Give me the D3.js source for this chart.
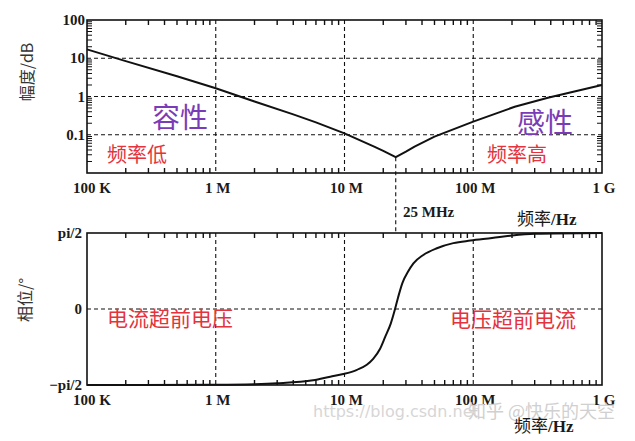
<!DOCTYPE html>
<html><head><meta charset="utf-8">
<script src="https://cdn.jsdelivr.net/npm/d3@7/dist/d3.min.js"></script>
<style>body{margin:0;background:#fff}svg{display:block}</style>
</head><body>
<svg id="c" width="635" height="441"></svg>
<script>
// ---- data ----
const freqTicks = [1e5, 1e6, 1e7, 1e8, 1e9];
const freqTickLabels = ["100 K", "1 M", "10 M", "100 M", "1 G"];
const magTicks = [0.1, 1, 10, 100];
const magTickLabels = ["0.1", "1", "10", "100"];
const phaseTicks = [-90, 0, 90];
const phaseTickLabels = ["\u2212pi/2", "0", "pi/2"];
const magFreq = [1e5, 2e5, 5e5, 1e6, 2e6, 4e6, 6e6, 1e7, 1.7e7, 2e7, 2.5e7, 3e7, 3.5e7, 5e7, 1e8, 2.1e8, 3.8e8, 1e9];
const magValue = [17.1, 8.4, 3.4, 1.64, 0.74, 0.34, 0.21, 0.109, 0.049, 0.038, 0.026, 0.036, 0.049, 0.089, 0.22, 0.54, 0.93, 2.0];
const phFreq = [1e5, 1e6, 2e6, 3e6, 5.7e6, 7.75e6, 9.8e6, 1.25e7, 1.49e7, 1.67e7, 1.89e7, 2.07e7, 2.29e7, 2.46e7, 2.61e7, 2.82e7, 3.11e7, 3.43e7, 4.09e7, 5.22e7, 7e7, 9.5e7, 1.4e8, 2e8, 3e8, 1e9];
const phValue = [-90, -89.6, -89, -88, -84.5, -80.2, -77, -72, -66, -59, -47, -33, -17, -1, 14, 31, 44, 54, 64, 72, 78, 81, 84, 87, 89, 90];
const resonanceFreq = 2.5e7;

// ---- layout ----
const svg = d3.select("#c");
const X0 = 87, X1 = 602;
const x = d3.scaleLog().domain([1e5, 1e9]).range([X0, X1]);
const yM = d3.scaleLog().domain([0.01, 100]).range([173, 20]);
const yP = d3.scaleLinear().domain([-90, 90]).range([385, 233]);
const serif = "'Liberation Serif','DejaVu Serif',serif";
const cjk = "'Noto Sans CJK SC','Noto Sans',sans-serif";
const red = "#e4333c", purple = "#7a3cb6";

function logMinors(lo, hi) {
  const out = [];
  for (let d = lo; d < hi; d *= 10) for (let k = 2; k <= 9; k++) out.push(d * k);
  return out;
}
const fMinor = logMinors(1e5, 1e9);
const mMinor = logMinors(0.01, 100);

function grid(g, yScale, yGrid, top, bottom) {
  g.selectAll(".vg").data(freqTicks.slice(1, -1)).join("line")
    .attr("x1", d => x(d)).attr("x2", d => x(d)).attr("y1", top).attr("y2", bottom)
    .attr("stroke", "#111").attr("stroke-width", 1.1).attr("stroke-dasharray", "4,3");
  g.selectAll(".hg").data(yGrid).join("line")
    .attr("x1", X0).attr("x2", X1).attr("y1", d => yScale(d)).attr("y2", d => yScale(d))
    .attr("stroke", "#111").attr("stroke-width", 1.1).attr("stroke-dasharray", "4,3");
}

function frame(g, top, bottom, sideTicks) {
  g.append("g").selectAll("line").data(fMinor).join("line")
    .attr("x1", d => x(d)).attr("x2", d => x(d)).attr("y1", top).attr("y2", top + 5)
    .attr("stroke", "#111").attr("stroke-width", 1.4);
  g.append("g").selectAll("line").data(fMinor).join("line")
    .attr("x1", d => x(d)).attr("x2", d => x(d)).attr("y1", bottom).attr("y2", bottom - 5)
    .attr("stroke", "#111").attr("stroke-width", 1.4);
  if (sideTicks) {
    g.append("g").selectAll("line").data(mMinor).join("line")
      .attr("x1", X0).attr("x2", X0 + 5).attr("y1", d => yM(d)).attr("y2", d => yM(d))
      .attr("stroke", "#111").attr("stroke-width", 1);
    g.append("g").selectAll("line").data(mMinor).join("line")
      .attr("x1", X1).attr("x2", X1 - 5).attr("y1", d => yM(d)).attr("y2", d => yM(d))
      .attr("stroke", "#111").attr("stroke-width", 1);
  }
  g.append("rect").attr("x", X0).attr("y", top).attr("width", X1 - X0).attr("height", bottom - top)
    .attr("fill", "none").attr("stroke", "#111").attr("stroke-width", 1.6);
}

function xLabels(g, baseline) {
  g.selectAll("text").data(freqTicks).join("text")
    .attr("x", (d, i) => x(d) + (i === 0 ? 5 : 2)).attr("y", baseline)
    .attr("text-anchor", "middle").attr("font-family", serif).attr("font-size", 15)
    .attr("font-weight", "bold").attr("fill", "#1a1a1a")
    .text((d, i) => freqTickLabels[i]);
}

// ---- magnitude panel ----
const g1 = svg.append("g");
grid(g1, yM, magTicks.slice(0, -1), 20, 173);
frame(g1, 20, 173, true);
g1.append("g").selectAll("text").data(magTicks).join("text")
  .attr("x", 85).attr("y", d => yM(d) + 5).attr("text-anchor", "end")
  .attr("font-family", serif).attr("font-size", 15).attr("font-weight", "bold").attr("fill", "#1a1a1a")
  .text((d, i) => magTickLabels[i]);
xLabels(g1.append("g"), 193);
g1.append("path").datum(magFreq.map((f, i) => [f, magValue[i]]))
  .attr("d", d3.line().x(d => x(d[0])).y(d => yM(d[1])))
  .attr("fill", "none").attr("stroke", "#111").attr("stroke-width", 2);
g1.append("text").attr("transform", "translate(33,72) rotate(-90)").attr("text-anchor", "middle")
  .attr("font-family", cjk).attr("font-size", 16).attr("fill", "#333").text("幅度/dB");

// resonance marker
const minIdx = magFreq.indexOf(resonanceFreq);
svg.append("line").attr("x1", x(resonanceFreq)).attr("x2", x(resonanceFreq))
  .attr("y1", yM(magValue[minIdx])).attr("y2", yP(90))
  .attr("stroke", "#111").attr("stroke-width", 1.1).attr("stroke-dasharray", "4,3");
svg.append("text").attr("x", 403).attr("y", 217).attr("font-family", serif).attr("font-size", 15)
  .attr("font-weight", "bold").attr("fill", "#1a1a1a").text("25 MHz");

// ---- phase panel ----
const g2 = svg.append("g");
grid(g2, yP, [0], 233, 385);
frame(g2, 233, 385, false);
g2.append("g").selectAll("text").data(phaseTicks).join("text")
  .attr("x", 82).attr("y", d => yP(d) + 5).attr("text-anchor", "end")
  .attr("font-family", serif).attr("font-size", 15).attr("font-weight", "bold").attr("fill", "#1a1a1a")
  .text((d, i) => phaseTickLabels[i]);
xLabels(g2.append("g"), 405);
g2.append("path").datum(phFreq.map((f, i) => [f, phValue[i]]))
  .attr("d", d3.line().curve(d3.curveMonotoneX).x(d => x(d[0])).y(d => yP(d[1])))
  .attr("fill", "none").attr("stroke", "#111").attr("stroke-width", 2);
g2.append("text").attr("transform", "translate(31,300) rotate(-90)").attr("text-anchor", "middle")
  .attr("font-family", cjk).attr("font-size", 16).attr("fill", "#333").text("相位/°");

function hzTitle(xp, yp) {
  const t = svg.append("text").attr("x", xp).attr("y", yp).attr("fill", "#1a1a1a").attr("font-size", 17);
  t.append("tspan").attr("font-family", cjk).text("频率");
  t.append("tspan").attr("font-family", serif).attr("font-weight", "bold").text("/Hz");
}
hzTitle(517, 225);

// watermark
svg.append("text").attr("x", 313).attr("y", 417).attr("font-family", "'DejaVu Sans',sans-serif")
  .attr("font-size", 16).attr("fill", "#d6d6d6").text("https://blog.csdn.net");
svg.append("text").attr("x", 468).attr("y", 418).attr("font-family", cjk)
  .attr("font-size", 18).attr("fill", "#d0d0d0").text("知乎 @快乐的天空");
hzTitle(514, 432);

// annotations
const ann = [
  ["容性", 152, 128, 28, purple],
  ["感性", 517, 133, 28, purple],
  ["频率低", 107, 162, 20, red],
  ["频率高", 487, 162, 20, red],
  ["电流超前电压", 107, 326, 21, red],
  ["电压超前电流", 450, 327, 21, red]
];
svg.append("g").selectAll("text").data(ann).join("text")
  .attr("x", d => d[1]).attr("y", d => d[2]).attr("font-size", d => d[3]).attr("fill", d => d[4])
  .attr("font-family", cjk).text(d => d[0]);
</script>
</body></html>
